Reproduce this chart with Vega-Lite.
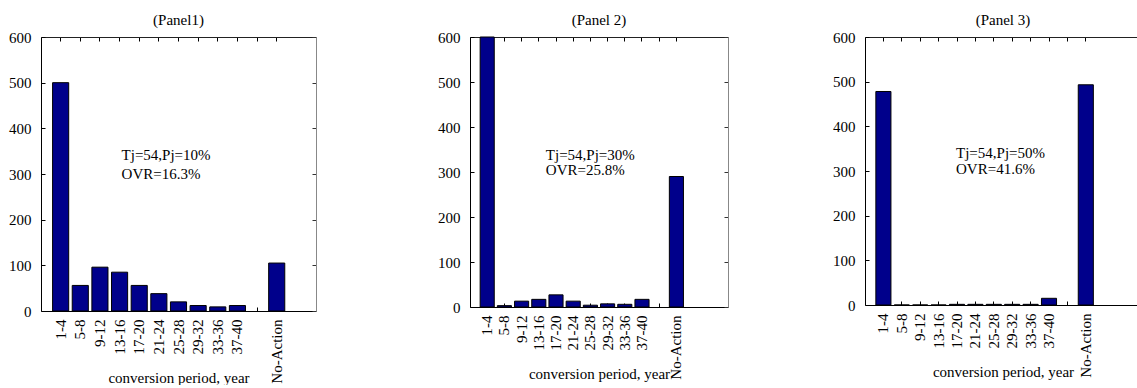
{
  "$schema": "https://vega.github.io/schema/vega-lite/v6.json",
  "padding": {"left": 8, "top": 13, "right": 0, "bottom": 0},
  "background": "white",
  "config": {
    "font": "Liberation Serif",
    "view": {"stroke": null},
    "text": {"font": "Liberation Serif"},
    "axis": {"labelFont": "Liberation Serif", "labelFontSize": 15, "labelColor": "#000", "titleFont": "Liberation Serif", "titleColor": "#000", "grid": false, "tickColor": "#000", "domainColor": "#000"},
    "title": {"font": "Liberation Serif", "fontSize": 15, "fontWeight": "normal", "color": "#000", "offset": 2}
  },
  "datasets": {
    "p1": [
      {"period": "1-4", "count": 500}, {"period": "5-8", "count": 56}, {"period": "9-12", "count": 96},
      {"period": "13-16", "count": 85}, {"period": "17-20", "count": 56}, {"period": "21-24", "count": 38},
      {"period": "25-28", "count": 20}, {"period": "29-32", "count": 12}, {"period": "33-36", "count": 9},
      {"period": "37-40", "count": 12}, {"period": "No-Action", "count": 105}
    ],
    "p2": [
      {"period": "1-4", "count": 600}, {"period": "5-8", "count": 3}, {"period": "9-12", "count": 13},
      {"period": "13-16", "count": 17}, {"period": "17-20", "count": 27}, {"period": "21-24", "count": 13},
      {"period": "25-28", "count": 4}, {"period": "29-32", "count": 7}, {"period": "33-36", "count": 6},
      {"period": "37-40", "count": 17}, {"period": "No-Action", "count": 290}
    ],
    "p3": [
      {"period": "1-4", "count": 478}, {"period": "5-8", "count": 0}, {"period": "9-12", "count": 0},
      {"period": "13-16", "count": 0}, {"period": "17-20", "count": 1.5}, {"period": "21-24", "count": 1.5},
      {"period": "25-28", "count": 1.5}, {"period": "29-32", "count": 1.5}, {"period": "33-36", "count": 1.5},
      {"period": "37-40", "count": 15}, {"period": "No-Action", "count": 493}
    ],
    "a1": [{"period": "13-16", "count": 331, "label": "Tj=54,Pj=10%"}, {"period": "13-16", "count": 290, "label": "OVR=16.3%"}],
    "a2": [{"period": "13-16", "count": 327, "label": "Tj=54,Pj=30%"}, {"period": "13-16", "count": 293, "label": "OVR=25.8%"}],
    "a3": [{"period": "17-20", "count": 329, "label": "Tj=54,Pj=50%"}, {"period": "17-20", "count": 293, "label": "OVR=41.6%"}]
  },
  "spacing": 103,
  "hconcat": [
    {
      "spacing": 120,
      "hconcat": [
        {
          "width": 275, "height": 274,
          "title": "(Panel1)",
          "layer": [
            {
              "data": {"name": "p1"},
              "mark": {"type": "bar", "color": "#00008b", "stroke": "#000", "strokeWidth": 1},
              "encoding": {
                "x": {"field": "period", "type": "nominal", "sort": null,
                  "scale": {"domain": ["1-4","5-8","9-12","13-16","17-20","21-24","25-28","29-32","33-36","37-40"," ","No-Action","  "], "paddingInner": 0.18, "paddingOuter": 0.59, "round": false},
                  "axis": {"orient": "bottom", "values": ["1-4","5-8","9-12","13-16","17-20","21-24","25-28","29-32","33-36","37-40"," ","No-Action"], "labelAngle": -90, "tickSize": -4, "labelPadding": 12, "title": "conversion period, year", "titleFontSize": 15, "titleFontWeight": "normal", "titleY": 71, "titleBaseline": "alphabetic"}},
                "y": {"field": "count", "type": "quantitative", "scale": {"domain": [0, 600], "nice": false},
                  "axis": {"orient": "left", "values": [0,100,200,300,400,500,600], "tickSize": -4, "labelPadding": 14, "title": null}}
              }
            },
            {
              "data": {"name": "p1"},
              "mark": {"type": "bar", "opacity": 0},
              "encoding": {
                "x": {"field": "period", "type": "nominal", "sort": null, "axis": {"orient": "top", "values": ["1-4","5-8","9-12","13-16","17-20","21-24","25-28","29-32","33-36","37-40"," ","No-Action"], "labels": false, "tickSize": -4, "title": null, "domainColor": "#222"}},
                "y": {"field": "count", "type": "quantitative", "axis": {"orient": "right", "labels": false, "values": [0,100,200,300,400,500,600], "tickSize": -4, "title": null, "domainColor": "#888", "tickColor": "#333"}}
              }
            },
            {
              "data": {"name": "a1"},
              "mark": {"type": "text", "align": "left", "baseline": "alphabetic", "font": "Liberation Serif", "fontSize": 15, "dx": 2, "color": "#000"},
              "encoding": {
                "x": {"field": "period", "type": "nominal", "sort": null, "axis": null},
                "y": {"field": "count", "type": "quantitative", "axis": null},
                "text": {"field": "label"}
              }
            }
          ],
          "resolve": {"axis": {"x": "independent", "y": "independent"}}
        },
        {
          "width": 258, "height": 270,
          "title": "(Panel 2)",
          "layer": [
            {
              "data": {"name": "p2"},
              "mark": {"type": "bar", "color": "#00008b", "stroke": "#000", "strokeWidth": 1},
              "encoding": {
                "x": {"field": "period", "type": "nominal", "sort": null,
                  "scale": {"domain": ["1-4","5-8","9-12","13-16","17-20","21-24","25-28","29-32","33-36","37-40"," ","No-Action","  ","   "], "paddingInner": 0.18, "paddingOuter": 0.59, "round": false},
                  "axis": {"orient": "bottom", "values": ["1-4","5-8","9-12","13-16","17-20","21-24","25-28","29-32","33-36","37-40"," ","No-Action"], "labelAngle": -90, "tickSize": -4, "labelPadding": 12, "title": "conversion period, year", "titleFontSize": 15, "titleFontWeight": "normal", "titleY": 71, "titleBaseline": "alphabetic"}},
                "y": {"field": "count", "type": "quantitative", "scale": {"domain": [0, 600], "nice": false},
                  "axis": {"orient": "left", "values": [0,100,200,300,400,500,600], "tickSize": -4, "labelPadding": 14, "title": null}}
              }
            },
            {
              "data": {"name": "p2"},
              "mark": {"type": "bar", "opacity": 0},
              "encoding": {
                "x": {"field": "period", "type": "nominal", "sort": null, "axis": {"orient": "top", "values": ["1-4","5-8","9-12","13-16","17-20","21-24","25-28","29-32","33-36","37-40"," ","No-Action"], "labels": false, "tickSize": -4, "title": null, "domainColor": "#222"}},
                "y": {"field": "count", "type": "quantitative", "axis": {"orient": "right", "labels": false, "values": [0,100,200,300,400,500,600], "tickSize": -4, "title": null, "domainColor": "#888", "tickColor": "#333"}}
              }
            },
            {
              "data": {"name": "a2"},
              "mark": {"type": "text", "align": "left", "baseline": "alphabetic", "font": "Liberation Serif", "fontSize": 15, "dx": 7, "color": "#000"},
              "encoding": {
                "x": {"field": "period", "type": "nominal", "sort": null, "axis": null},
                "y": {"field": "count", "type": "quantitative", "axis": null},
                "text": {"field": "label"}
              }
            }
          ],
          "resolve": {"axis": {"x": "independent", "y": "independent"}}
        }
      ]
    },
    {
      "width": 276, "height": 268,
      "title": "(Panel 3)",
      "layer": [
        {
          "data": {"name": "p3"},
          "mark": {"type": "bar", "color": "#00008b", "stroke": "#000", "strokeWidth": 1},
          "encoding": {
            "x": {"field": "period", "type": "nominal", "sort": null,
              "scale": {"domain": ["1-4","5-8","9-12","13-16","17-20","21-24","25-28","29-32","33-36","37-40"," ","No-Action","  ","   "], "paddingInner": 0.18, "paddingOuter": 0.59, "round": false},
              "axis": {"orient": "bottom", "values": ["1-4","5-8","9-12","13-16","17-20","21-24","25-28","29-32","33-36","37-40"," ","No-Action"], "labelAngle": -90, "tickSize": -4, "labelPadding": 12, "title": "conversion period, year", "titleFontSize": 15, "titleFontWeight": "normal", "titleY": 71, "titleBaseline": "alphabetic"}},
            "y": {"field": "count", "type": "quantitative", "scale": {"domain": [0, 600], "nice": false},
              "axis": {"orient": "left", "values": [0,100,200,300,400,500,600], "tickSize": -4, "labelPadding": 14, "title": null}}
          }
        },
        {
          "data": {"name": "p3"},
          "mark": {"type": "bar", "opacity": 0},
          "encoding": {
            "x": {"field": "period", "type": "nominal", "sort": null, "axis": {"orient": "top", "values": ["1-4","5-8","9-12","13-16","17-20","21-24","25-28","29-32","33-36","37-40"," ","No-Action"], "labels": false, "tickSize": -4, "title": null, "domainColor": "#222"}},
            "y": {"field": "count", "type": "quantitative", "axis": {"orient": "right", "labels": false, "values": [0,100,200,300,400,500,600], "tickSize": -4, "title": null, "domainColor": "#888", "tickColor": "#333"}}
          }
        },
        {
          "data": {"name": "a3"},
          "mark": {"type": "text", "align": "left", "baseline": "alphabetic", "font": "Liberation Serif", "fontSize": 15, "dx": -1, "color": "#000"},
          "encoding": {
            "x": {"field": "period", "type": "nominal", "sort": null, "axis": null},
            "y": {"field": "count", "type": "quantitative", "axis": null},
            "text": {"field": "label"}
          }
        }
      ],
      "resolve": {"axis": {"x": "independent", "y": "independent"}}
    }
  ]
}
